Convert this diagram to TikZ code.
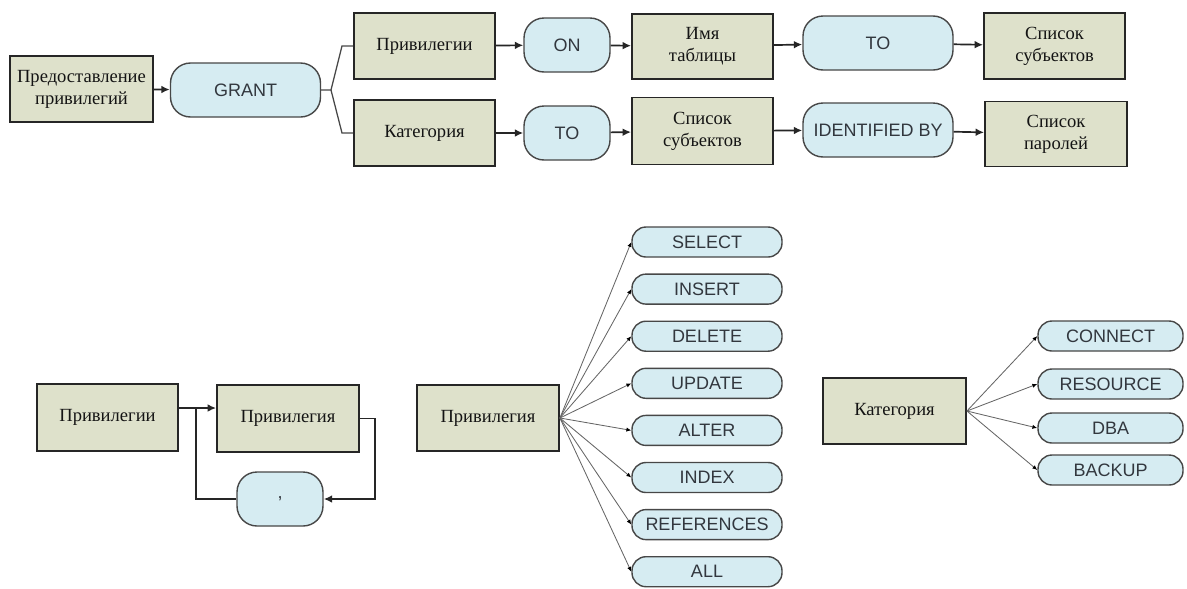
\documentclass[tikz,border=0pt]{standalone}
\usepackage{fontspec}
\setmainfont{Liberation Serif}
\setsansfont{Liberation Sans}
\usepackage{tikz}
\usetikzlibrary{arrows.meta}
\usepackage{xcolor}
\definecolor{termfill}{RGB}{222,225,203}
\definecolor{keyfill}{RGB}{214,236,242}
\definecolor{rim}{RGB}{38,38,38}
\definecolor{keytext}{RGB}{50,55,62}
\newcommand{\termfont}{\fontsize{13.2}{15.6}\selectfont}
\newcommand{\keyfont}{\sffamily\fontsize{12.8}{15}\selectfont}
\tikzset{
    termbox/.style 2 args={draw=rim, line width=1.3pt, fill=termfill, text=black!92,
        minimum width=#1*0.025cm, minimum height=#2*0.025cm, inner sep=0pt,
        align=center, font=\termfont},
    keybox/.style 2 args={draw=rim!85, line width=1pt, fill=keyfill, text=keytext,
        rounded corners=0.5cm, minimum width=#1*0.025cm, minimum height=#2*0.025cm,
        inner sep=0pt, font=\keyfont},
    optbox/.style 2 args={keybox={#1}{#2}, rounded corners=0.35cm},
    flow/.style={draw=rim, line width=1.2pt, -{Latex[length=6pt,width=5.5pt]}},
    link/.style={draw=rim!85, line width=0.9pt},
    fan/.style={draw=black!60, line width=0.6pt, -{Latex[length=3.5pt,width=3pt,color=black]}}
}

\begin{document}
\begin{tikzpicture}[x=0.025cm, y=-0.025cm]
    \useasboundingbox (0,0) rectangle (1187,588);

    % GRANT syntax, two rows
    \node[termbox={143}{66}] (pred) at (81.5,89) {Предоставление\\привилегий};
    \node[keybox={150}{54}] (grant) at (245.5,90) {GRANT};
    \node[termbox={141}{66}] (priv) at (424.5,46) {Привилегии};
    \node[keybox={86}{54}] (on) at (567,45) {ON};
    \node[termbox={141}{65}] (table) at (702.5,46.5) {Имя\\таблицы};
    \node[keybox={150}{54}] (toA) at (878,43) {TO};
    \node[termbox={141}{66}] (subjA) at (1054.5,46) {Список\\субъектов};
    \node[termbox={141}{66}] (cat) at (424.5,133) {Категория};
    \node[keybox={86}{54}] (toB) at (567,133) {TO};
    \node[termbox={141}{67}] (subjB) at (702.5,131) {Список\\субъектов};
    \node[keybox={150}{54}] (ident) at (878,130) {IDENTIFIED BY};
    \node[termbox={142}{65}] (pwd) at (1056,134) {Список\\паролей};

    \coordinate (fork) at (331,90);
    \coordinate (forkA) at (342,46);
    \coordinate (forkB) at (342,133);
    \draw[flow] (pred) -- (grant);
    \draw[link] (grant.east) -- (fork) -- (forkA) -- (priv.west);
    \draw[link] (fork) -- (forkB) -- (cat.west);
    \draw[flow] (priv) -- (on);
    \draw[flow] (on) -- (table);
    \draw[flow] (table) -- (toA);
    \draw[flow] (toA) -- (subjA);
    \draw[flow] (cat) -- (toB);
    \draw[flow] (toB) -- (subjB);
    \draw[flow] (subjB) -- (ident);
    \draw[flow] (ident) -- (pwd);

    % list of privileges
    \node[termbox={141}{67}] (privs) at (107.5,417.5) {Привилегии};
    \node[termbox={142}{67}] (privOne) at (288,418.5) {Привилегия};
    \node[keybox={86}{54}] (comma) at (280,499) {,};
    \coordinate (join) at (196,408);
    \draw[flow] (privs.east |- join) -- (privOne.west |- join);
    \draw[flow] (privOne.east) -- ++(15,0) |- (comma.east);
    \draw[line width=1.2pt, draw=rim] (comma.west) -| (join);

    % single privilege
    \node[termbox={142}{66}] (pvg) at (488,418) {Привилегия};
    \foreach \name [count=\i from 0] in {SELECT,INSERT,DELETE,UPDATE,ALTER,INDEX,REFERENCES,ALL} {
        \node[optbox={150}{30}] (opt\i) at (707,{242+47.1*\i}) {\name};
        \draw[fan] (pvg.east) -- (opt\i.west);
    }

    % category
    \node[termbox={143}{66}] (catB) at (894.5,411) {Категория};
    \foreach \name/\y [count=\i] in {CONNECT/336,RESOURCE/384,DBA/428,BACKUP/470} {
        \node[optbox={145}{30}] (role\i) at (1110.5,\y) {\name};
        \draw[fan] (catB.east) -- (role\i.west);
    }
\end{tikzpicture}
\end{document}
